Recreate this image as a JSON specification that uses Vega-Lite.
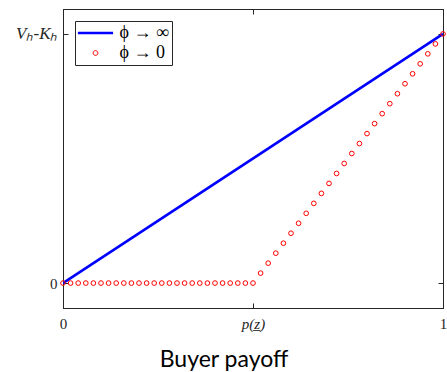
{
  "$schema": "https://vega.github.io/schema/vega-lite/v6.json",
  "width": 380,
  "height": 299,
  "autosize": "none",
  "padding": {"left": 63, "top": 9, "right": 4, "bottom": 64},
  "config": {
    "view": {"stroke": "#262626", "strokeWidth": 1},
    "axis": {
      "domainColor": "#262626",
      "tickColor": "#262626",
      "grid": false,
      "labelFont": "Liberation Serif",
      "labelFontSize": 15,
      "labelColor": "#262626"
    }
  },
  "datasets": {
    "lineData": [
      {"x": 0, "y": 0, "s": "ϕ → ∞"},
      {"x": 1, "y": 1, "s": "ϕ → ∞"}
    ],
    "pointData": [
      {"x": 0.00, "y": 0, "s": "ϕ → 0"},
      {"x": 0.02, "y": 0, "s": "ϕ → 0"},
      {"x": 0.04, "y": 0, "s": "ϕ → 0"},
      {"x": 0.06, "y": 0, "s": "ϕ → 0"},
      {"x": 0.08, "y": 0, "s": "ϕ → 0"},
      {"x": 0.10, "y": 0, "s": "ϕ → 0"},
      {"x": 0.12, "y": 0, "s": "ϕ → 0"},
      {"x": 0.14, "y": 0, "s": "ϕ → 0"},
      {"x": 0.16, "y": 0, "s": "ϕ → 0"},
      {"x": 0.18, "y": 0, "s": "ϕ → 0"},
      {"x": 0.20, "y": 0, "s": "ϕ → 0"},
      {"x": 0.22, "y": 0, "s": "ϕ → 0"},
      {"x": 0.24, "y": 0, "s": "ϕ → 0"},
      {"x": 0.26, "y": 0, "s": "ϕ → 0"},
      {"x": 0.28, "y": 0, "s": "ϕ → 0"},
      {"x": 0.30, "y": 0, "s": "ϕ → 0"},
      {"x": 0.32, "y": 0, "s": "ϕ → 0"},
      {"x": 0.34, "y": 0, "s": "ϕ → 0"},
      {"x": 0.36, "y": 0, "s": "ϕ → 0"},
      {"x": 0.38, "y": 0, "s": "ϕ → 0"},
      {"x": 0.40, "y": 0, "s": "ϕ → 0"},
      {"x": 0.42, "y": 0, "s": "ϕ → 0"},
      {"x": 0.44, "y": 0, "s": "ϕ → 0"},
      {"x": 0.46, "y": 0, "s": "ϕ → 0"},
      {"x": 0.48, "y": 0, "s": "ϕ → 0"},
      {"x": 0.50, "y": 0, "s": "ϕ → 0"},
      {"x": 0.52, "y": 0.04, "s": "ϕ → 0"},
      {"x": 0.54, "y": 0.08, "s": "ϕ → 0"},
      {"x": 0.56, "y": 0.12, "s": "ϕ → 0"},
      {"x": 0.58, "y": 0.16, "s": "ϕ → 0"},
      {"x": 0.60, "y": 0.20, "s": "ϕ → 0"},
      {"x": 0.62, "y": 0.24, "s": "ϕ → 0"},
      {"x": 0.64, "y": 0.28, "s": "ϕ → 0"},
      {"x": 0.66, "y": 0.32, "s": "ϕ → 0"},
      {"x": 0.68, "y": 0.36, "s": "ϕ → 0"},
      {"x": 0.70, "y": 0.40, "s": "ϕ → 0"},
      {"x": 0.72, "y": 0.44, "s": "ϕ → 0"},
      {"x": 0.74, "y": 0.48, "s": "ϕ → 0"},
      {"x": 0.76, "y": 0.52, "s": "ϕ → 0"},
      {"x": 0.78, "y": 0.56, "s": "ϕ → 0"},
      {"x": 0.80, "y": 0.60, "s": "ϕ → 0"},
      {"x": 0.82, "y": 0.64, "s": "ϕ → 0"},
      {"x": 0.84, "y": 0.68, "s": "ϕ → 0"},
      {"x": 0.86, "y": 0.72, "s": "ϕ → 0"},
      {"x": 0.88, "y": 0.76, "s": "ϕ → 0"},
      {"x": 0.90, "y": 0.80, "s": "ϕ → 0"},
      {"x": 0.92, "y": 0.84, "s": "ϕ → 0"},
      {"x": 0.94, "y": 0.88, "s": "ϕ → 0"},
      {"x": 0.96, "y": 0.92, "s": "ϕ → 0"},
      {"x": 0.98, "y": 0.96, "s": "ϕ → 0"},
      {"x": 1.00, "y": 1.00, "s": "ϕ → 0"}
    ]
  },
  "resolve": {"axis": {"x": "independent", "y": "independent"}},
  "layer": [
    {
      "data": {"name": "lineData"},
      "mark": {"type": "line", "strokeWidth": 2.5, "clip": true},
      "encoding": {
        "x": {
          "field": "x", "type": "quantitative",
          "scale": {"domain": [0, 1], "nice": false, "zero": false},
          "axis": {
            "orient": "bottom",
            "values": [0, 0.5, 1],
            "tickSize": -5,
            "labelPadding": 13,
            "labelExpr": "datum.value == 0.5 ? 'p(z̲)' : format(datum.value, 'd')",
            "labelFontStyle": {"condition": {"test": "datum.value == 0.5", "value": "italic"}, "value": "normal"},
            "labelFlush": false,
            "title": "Buyer payoff",
            "titleFont": "Lato",
            "titleFontSize": 23,
            "titleFontWeight": "normal",
            "titleColor": "#000000",
            "titleX": 160.5,
            "titleY": 58,
            "titleAlign": "center",
            "titleBaseline": "alphabetic"
          }
        },
        "y": {
          "field": "y", "type": "quantitative",
          "scale": {"domain": [-0.1, 1.1], "nice": false, "zero": false},
          "axis": {
            "orient": "left",
            "values": [0, 1],
            "tickSize": -5,
            "labelPadding": 11,
            "labelFontSize": {"condition": {"test": "datum.value == 1", "value": 17}, "value": 15},
            "labelExpr": "datum.value == 1 ? 'Vₕ-Kₕ' : format(datum.value, 'd')",
            "labelFontStyle": {"condition": {"test": "datum.value == 1", "value": "italic"}, "value": "normal"},
            "title": null
          }
        },
        "color": {
          "field": "s", "type": "nominal",
          "scale": {"domain": ["ϕ → ∞", "ϕ → 0"], "range": ["#0000ff", "#ff0000"]},
          "legend": {
            "title": null,
            "orient": "top-left",
            "offset": 12,
            "strokeColor": "#262626",
            "fillColor": "white",
            "padding": 3,
            "symbolType": "M-2.2,0L2.2,0",
            "symbolSize": 256,
            "symbolStrokeWidth": 1,
            "symbolOffset": 8.5,
            "labelFont": "Liberation Serif",
            "labelFontSize": 18,
            "labelFontStyle": "normal",
            "labelColor": "#000000",
            "labelOffset": 15,
            "rowPadding": 2,
            "encode": {
              "symbols": {
                "update": {
                  "shape": {"signal": "datum.value === 'ϕ → ∞' ? 'M-2.2,0L2.2,0' : 'M0.3,0A0.3,0.3,0,1,1,-0.3,0A0.3,0.3,0,1,1,0.3,0Z'"},
                  "strokeWidth": {"signal": "datum.value === 'ϕ → ∞' ? 2.5 : 1"},
                  "fill": {"value": "transparent"}
                }
              }
            }
          }
        }
      }
    },
    {
      "data": {"name": "pointData"},
      "mark": {"type": "point", "filled": false, "size": 22, "strokeWidth": 1, "opacity": 1, "clip": false},
      "encoding": {
        "x": {"field": "x", "type": "quantitative", "axis": null},
        "y": {"field": "y", "type": "quantitative", "axis": null},
        "color": {"field": "s", "type": "nominal"}
      }
    },
    {
      "data": {"name": "lineData"},
      "mark": {"type": "line", "opacity": 0},
      "encoding": {
        "x": {
          "field": "x", "type": "quantitative",
          "axis": {"orient": "top", "values": [0, 0.5, 1], "tickSize": -5, "labels": false, "title": null}
        },
        "y": {
          "field": "y", "type": "quantitative",
          "axis": {"orient": "right", "values": [0, 1], "tickSize": -5, "labels": false, "title": null}
        }
      }
    }
  ]
}
